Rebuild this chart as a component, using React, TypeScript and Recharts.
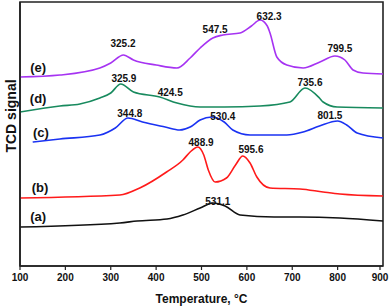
import React from "react";
import {
  LineChart,
  Line,
  XAxis,
  YAxis,
  ReferenceDot,
  ReferenceArea,
} from "recharts";

// temperature (°C) grid per curve and TCD signal (arbitrary units, stacked)
const tempA = [100, 320, 358, 424, 459, 497, 525, 552, 585, 660, 717, 805, 900];
const sigA = [39, 43, 45, 47, 51, 58, 63, 60, 51, 49, 49, 48, 45];

const tempB = [100, 320, 364, 423, 459, 475, 492, 505, 515, 530, 555, 575, 591, 607, 622, 651, 717, 768, 805, 900];
const sigB = [68, 71, 78, 94, 106, 114, 119, 111, 96, 84, 88, 101, 110, 103, 89, 78, 77, 74, 72, 70];

const tempC = [128, 188, 276, 310, 338, 370, 420, 452, 475, 497, 523, 550, 569, 607, 688, 724, 760, 800, 820, 843, 900];
const sigC = [124, 127, 131, 138, 148, 144, 139, 136, 139, 146, 149, 144, 136, 131, 131, 134, 140, 145, 141, 133, 128];

const tempD = [100, 188, 232, 276, 300, 322, 350, 408, 446, 497, 550, 629, 695, 728, 760, 768, 799, 900];
const sigD = [154, 160, 162, 168, 173, 182, 174, 169, 163, 159, 159, 160, 164, 178, 168, 164, 159, 158];

const tempE = [100, 188, 276, 300, 328, 350, 400, 446, 475, 497, 525, 547, 585, 610, 629, 645, 651, 666, 688, 724, 761, 794, 816, 834, 856, 900];
const sigE = [189, 191, 198, 203, 211, 206, 201, 198, 208, 218, 228, 231, 233, 240, 246, 240, 233, 209, 201, 198, 204, 210, 206, 196, 193, 192];

const xTicks = [100, 150, 200, 250, 300, 350, 400, 450, 500, 550, 600, 650, 700, 750, 800, 850, 900];

// curve tags and peak temperatures
const curveTags = ["(a)", "(b)", "(c)", "(d)", "(e)"];
const tagT = [140, 144, 146, 140, 140];
const tagV = [50, 79, 134, 168, 199];

const peakText = ["531.1", "488.9", "595.6", "344.8", "530.4", "801.5", "325.9", "424.5", "735.6", "325.2", "547.5", "632.3", "799.5"];
const peakT = [536, 499, 609, 342, 547, 783, 329, 431, 739, 327, 530, 649, 805];
const peakV = [65, 124, 117, 153, 150, 151, 188, 174, 184, 223, 237, 250, 218];

const colors = ["#111111", "#ff1a1a", "#1a32f2", "#188a5e", "#a633f2"];

const toPoints = (t: number[], v: number[]) => t.map((x, i) => ({ t: x, v: v[i] }));
const series = [
  toPoints(tempA, sigA),
  toPoints(tempB, sigB),
  toPoints(tempC, sigC),
  toPoints(tempD, sigD),
  toPoints(tempE, sigE),
];

const FONT = "'Liberation Sans', Arial, sans-serif";
const AXIS = "#222";

function TempTick(props: any) {
  const { x, y, payload } = props;
  const major = payload.value % 100 === 0;
  return (
    <g>
      <line x1={x} x2={x} y1={y} y2={y + (major ? 4 : 2.5)} stroke={AXIS} strokeWidth={1.2} />
      {major && (
        <text
          x={x}
          y={y + 12}
          textAnchor="middle"
          dominantBaseline="middle"
          fontFamily={FONT}
          fontWeight="bold"
          fontSize={10}
          fill="#111"
        >
          {payload.value}
        </text>
      )}
    </g>
  );
}

export default function App() {
  return (
    <div style={{ position: "absolute", left: 0, top: 0, background: "#fff" }}>
      <LineChart
        width={392}
        height={308}
        margin={{ top: 2, right: 9, left: 0, bottom: 0 }}
      >
        <XAxis
          dataKey="t"
          type="number"
          domain={[100, 900]}
          ticks={xTicks}
          allowDataOverflow
          height={42}
          tickSize={0}
          tickMargin={0}
          tick={<TempTick />}
          axisLine={{ stroke: AXIS, strokeWidth: 1.6 }}
          label={{
            content: () => (
              <text
                x={201.5}
                y={300}
                textAnchor="middle"
                dominantBaseline="middle"
                fontFamily={FONT}
                fontWeight="bold"
                fontSize={12}
                fill="#111"
              >
                Temperature, °C
              </text>
            ),
          }}
        />
        <YAxis
          type="number"
          domain={[0, 264]}
          width={20}
          tick={false}
          tickLine={false}
          axisLine={{ stroke: AXIS, strokeWidth: 1.6 }}
          label={{
            content: () => (
              <text
                transform="translate(12.5,116) rotate(-90)"
                textAnchor="middle"
                dominantBaseline="middle"
                fontFamily={FONT}
                fontWeight="bold"
                fontSize={14}
                fill="#111"
              >
                TCD signal
              </text>
            ),
          }}
        />
        {/* frame around the plot */}
        <ReferenceArea
          x1={100}
          x2={900}
          y1={0}
          y2={264}
          fill="none"
          fillOpacity={0}
          stroke={AXIS}
          strokeWidth={1.6}
          strokeOpacity={1}
        />
        {series.map((pts, i) => (
          <Line
            key={curveTags[i]}
            data={pts}
            dataKey="v"
            type="monotone"
            stroke={colors[i]}
            strokeWidth={1.6}
            dot={false}
            isAnimationActive={false}
          />
        ))}
        {curveTags.map((tag, i) => (
          <ReferenceDot
            key={tag}
            x={tagT[i]}
            y={tagV[i]}
            r={0}
            fill="none"
            stroke="none"
            label={{
              value: tag,
              position: "center",
              fontFamily: FONT,
              fontWeight: "bold",
              fontSize: 13,
              fill: "#111",
            }}
          />
        ))}
        {peakText.map((txt, i) => (
          <ReferenceDot
            key={txt + i}
            x={peakT[i]}
            y={peakV[i]}
            r={0}
            fill="none"
            stroke="none"
            label={{
              value: txt,
              position: "center",
              fontFamily: FONT,
              fontWeight: "bold",
              fontSize: 10,
              fill: "#111",
            }}
          />
        ))}
      </LineChart>
    </div>
  );
}
